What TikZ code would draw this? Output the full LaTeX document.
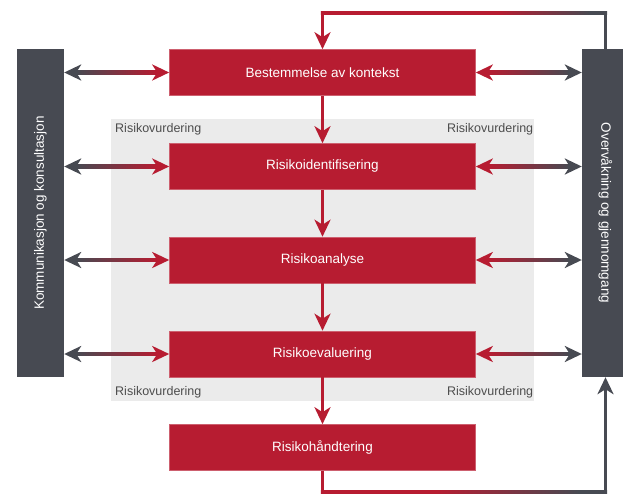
\documentclass[tikz,border=0pt]{standalone}
\usepackage{fontspec}
\setmainfont{Liberation Sans}
\usetikzlibrary{arrows.meta,calc}
\definecolor{rd}{HTML}{B71C31}
\definecolor{dk}{HTML}{474A52}
\definecolor{bgg}{HTML}{EBEBEB}
\definecolor{lbl}{HTML}{4D4D4D}
\pgfdeclarehorizontalshading{topsh}{100bp}{color(0bp)=(rd); color(56bp)=(rd); color(72bp)=(dk); color(100bp)=(dk)}
\pgfdeclarehorizontalshading{botsh}{100bp}{color(0bp)=(rd); color(45bp)=(rd); color(70bp)=(dk); color(100bp)=(dk)}
\tikzset{
  box/.style={fill=rd, draw=rd!70!white, line width=0.6pt, minimum width=306pt, minimum height=46pt,
    inner sep=0pt, text=white, font=\fontsize{13.5}{16}\selectfont},
  bar/.style={fill=dk, minimum width=47pt, minimum height=328pt, inner sep=0pt, text=white,
    font=\fontsize{13.5}{16}\selectfont},
  lab/.style={text=lbl, inner sep=0pt, font=\fontsize{12.5}{15}\selectfont},
  tip/.tip={Stealth[length=17pt,width=16pt,inset=5pt]},
  conn/.style={line width=3.5pt},
  loop/.style={line width=3.2pt},
}
\begin{document}
\begin{tikzpicture}[x=1pt,y=-1pt]
\useasboundingbox (0,0) rectangle (623,495);
% grey area
\node[fill=bgg, minimum width=423pt, minimum height=282pt, inner sep=0pt, anchor=north west] (area) at (111,119) {};
\node[lab, anchor=west] (l1) at ($(area.north west)+(4,10)$) {Risikovurdering};
\node[lab, anchor=east] (l2) at ($(area.north east)+(-1,10)$) {Risikovurdering};
\node[lab, anchor=west] (l3) at ($(area.south west)+(4,-9)$) {Risikovurdering};
\node[lab, anchor=east] (l4) at ($(area.south east)+(-1,-9)$) {Risikovurdering};
% bars
\node[bar] (K) at (40.5,213) {\rotatebox{90}{Kommunikasjon og konsultasjon}};
\node[bar] (O) at (605.5,213) {\rotatebox{-90}{Overvåkning og gjennomgang}};
% boxes
\node[box] (b1) at (322.5,72.5) {Bestemmelse av kontekst};
\node[box] (b2) at (322.5,166.5) {Risikoidentifisering};
\node[box] (b3) at (322.5,260) {Risikoanalyse};
\node[box] (b4) at (322.5,354) {Risikoevaluering};
\node[box] (b5) at (322.5,447.5) {Risikohåndtering};
% vertical arrows
\foreach \a/\b in {b1/b2,b2/b3,b3/b4,b4/b5}
  \draw[rd, conn, -{tip}] (\a.south) -- (\b.north);
% horizontal double arrows
\foreach \b in {b1,b2,b3,b4}{
  \shade[left color=dk, right color=rd] ($(K.east|-\b)+(12,-1.75)$) rectangle ($(\b.west)+(-12,1.75)$);
  \draw[dk, conn, -{tip}] ($(K.east|-\b)+(14,0)$) -- (K.east|-\b);
  \draw[rd, conn, -{tip}] ($(\b.west)+(-14,0)$) -- (\b.west);
  \shade[left color=rd, right color=dk] ($(\b.east)+(12,-1.75)$) rectangle ($(O.west|-\b)+(-12,1.75)$);
  \draw[rd, conn, -{tip}] ($(\b.east)+(14,0)$) -- (\b.east);
  \draw[dk, conn, -{tip}] ($(O.west|-\b)+(-14,0)$) -- (O.west|-\b);
}
% top loop
\coordinate (ty) at (0,13);
\coordinate (tL) at (b1.north |- ty);
\coordinate (tR) at (O.north |- ty);
\draw[dk, loop] (O.north) -- ($(tR)+(0,-1.6)$);
\shade[shading=topsh] ($(tL)+(-1.6,-1.6)$) rectangle ($(tR)+(1.6,1.6)$);
\draw[rd, loop, -{tip}] ($(tL)+(0,-1.6)$) -- (b1.north);
% bottom loop
\coordinate (by) at (0,492);
\coordinate (bL) at (b5.south |- by);
\coordinate (bR) at (O.south |- by);
\draw[rd, loop] (b5.south) -- ($(bL)+(0,1.6)$);
\shade[shading=botsh] ($(bL)+(-1.6,-1.6)$) rectangle ($(bR)+(1.6,1.6)$);
\draw[dk, loop, -{tip}] ($(bR)+(0,1.6)$) -- (O.south);
\end{tikzpicture}
\end{document}
